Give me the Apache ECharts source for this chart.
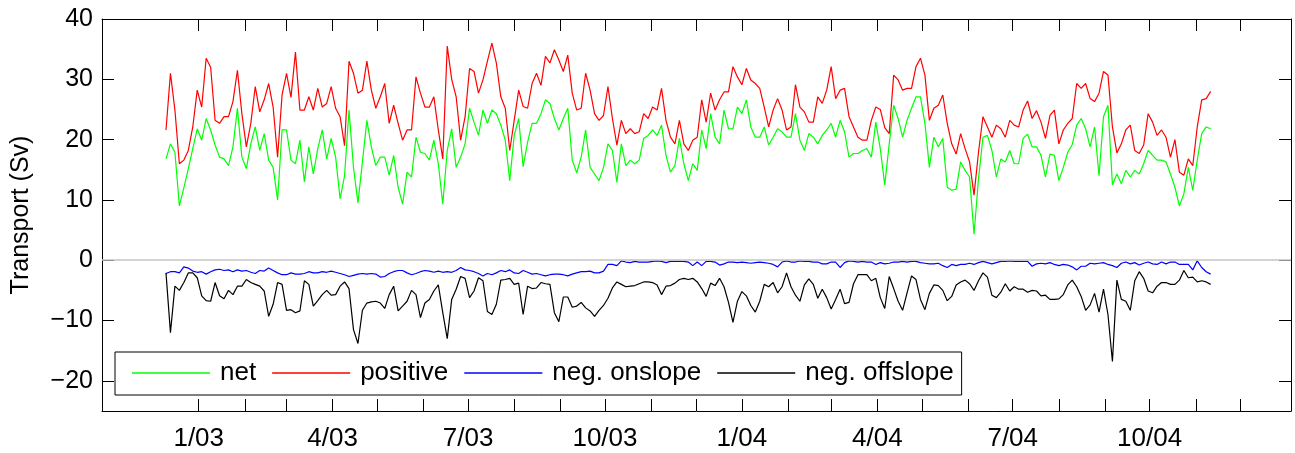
<!DOCTYPE html>
<html>
<head>
<meta charset="utf-8">
<title>Transport</title>
<script src="https://cdn.jsdelivr.net/npm/echarts@6.0.0/dist/echarts.min.js"></script>
<style>
  html, body { margin: 0; padding: 0; background: #fff; }
  #chart { width: 1295px; height: 453px; }
</style>
</head>
<body>
<div id="chart"></div>
<script>
// x is in days counted from 1 Jan 2003, one sample every 3 days
var startDay = -22
var stepDays = 3

var net = [
  16.8, 19.3, 17.9, 9, 12, 15.2, 18.5, 21.8, 19.9, 23.5,
  21.6, 19.1, 17.1, 16.8, 15.7, 18.8, 25.2, 17.1, 15.2, 19.3,
  22.1, 18.2, 21, 16.6, 15.4, 10, 21.6, 21.6, 16.6, 16,
  19.9, 13, 18.8, 14.3, 18.5, 21.6, 16.8, 20.2, 17.1, 10.2,
  14, 24.9, 15.4, 9.5, 16.3, 23.2, 18.8, 15.7, 17.1, 17.1,
  14.1, 17.4, 12.1, 9.3, 14.6, 13.8, 20.4, 17.9, 17.7, 16.6,
  19.9, 16, 9.3, 18.2, 21.8, 15.4, 17.1, 19.3, 25.2, 22.9,
  20.7, 24.9, 22.7, 24.9, 24.3, 22.4, 19.9, 13.2, 20.7, 23.5,
  15.5, 19.6, 22.7, 22.7, 24.3, 26.6, 26, 23.5, 21.6, 23.5,
  25.2, 16.6, 14.5, 17.1, 21.6, 15.4, 14.3, 13.2, 15.4, 19.3,
  18.2, 12.9, 19.3, 15.7, 16.6, 16, 16.6, 20.2, 20.7, 21.6,
  20.7, 22.4, 17.4, 14.6, 15.7, 20.2, 16, 13.2, 16, 14.9,
  21.6, 18.5, 24.3, 20.4, 19.3, 24.9, 21.8, 21.8, 25.4, 24.3,
  26.6, 22.1, 20.4, 20.4, 22.1, 19.1, 20.4, 21.8, 21.3, 20.4,
  20.4, 24.3, 19.9, 18.2, 21, 20.4, 19.3, 20.7, 21.6, 22.7,
  20.4, 23.2, 21.3, 17.1, 17.7, 17.7, 18.2, 18.5, 17.1, 22.9,
  18.5, 12.5, 19.3, 25.7, 23.5, 20.4, 23.2, 25.2, 27.1, 27.1,
  22.7, 15.4, 20.4, 18.8, 20.2, 12.1, 11.6, 11.8, 16.3, 14.9,
  13.8, 4.3, 13.5, 20.4, 20.7, 18.2, 13.8, 16.8, 16.3, 18.2,
  16, 16, 20.2, 20.9, 18.8, 18.8, 17.4, 13.8, 17.6, 17.4,
  13.2, 15.4, 17.9, 19.2, 22.4, 23.5, 21.8, 18.8, 22.1, 14,
  23.8, 25.7, 12.5, 14.3, 12.7, 14.9, 13.8, 14.9, 14.3, 16,
  18.2, 17.4, 16.6, 16.6, 16.3, 14.3, 12.1, 9, 11, 15.4,
  11.6, 16.6, 21, 22.1, 21.8
]

var positive = [
  21.6, 31, 24.9, 16, 16.6, 18.2, 22.1, 28.2, 25.4, 33.5,
  32, 23.2, 22.7, 23.8, 23.8, 26.3, 31.5, 24.3, 18.8, 22.7,
  28.8, 24.6, 26.6, 29.3, 25.4, 17.1, 27.4, 31, 27, 34.5,
  24.9, 24.9, 27.1, 24.9, 28.5, 25.4, 26, 28.8, 25.2, 23.8,
  19, 33, 31, 27.7, 28.2, 33, 28.2, 25.2, 27.1, 29.3,
  22.7, 25.7, 22.7, 19.9, 21.6, 21.6, 30.4, 27.7, 25.4, 25.4,
  27.1, 21.6, 16.8, 35.5, 30, 27.1, 19.9, 23.8, 31.8, 31.3,
  27.7, 29.9, 33, 36, 32.7, 27.1, 25.2, 18.2, 23.2, 28.2,
  25.5, 25.2, 29.3, 31, 29, 33.8, 32.7, 34.9, 33.2, 31.3,
  34, 27.7, 24.9, 25.2, 31, 28.2, 24.3, 23.2, 24, 28.8,
  23.5, 19.1, 23.2, 21, 21.8, 21, 21.3, 24.3, 23.5, 25.4,
  24.9, 28.5, 23.2, 20.4, 19.3, 23.2, 19.3, 18.2, 19.9, 20.4,
  26.6, 22.9, 27.7, 24.9, 26.6, 27.9, 27.9, 32.1, 30.4, 29.1,
  31.8, 29.9, 29.3, 28.5, 25.4, 22.1, 24.9, 26.8, 24.9, 21.6,
  22.1, 29.1, 25.4, 24.6, 22.9, 22.9, 27.1, 26, 28.2, 32.1,
  26.8, 28.2, 28.5, 23.8, 22.1, 20.4, 19.9, 19.9, 23.2, 25.4,
  25, 22, 21, 30.7, 29.9, 28.2, 28.5, 28.5, 32.1, 33.5,
  30.7, 23.2, 25.2, 25.7, 27.4, 22.7, 19.3, 17.6, 21, 18.5,
  16.3, 10.8, 17.9, 23.8, 22.1, 20.4, 22.4, 21.8, 20.4, 23.2,
  22.4, 22.1, 24.9, 26.4, 23.5, 24.8, 22.9, 20.2, 24, 24.9,
  19.3, 21.6, 22.7, 23.5, 29.3, 28.5, 29.3, 26.8, 26.3, 27.7,
  31.3, 30.7, 22.1, 17.8, 19.3, 21.6, 22.4, 18.2, 17.7, 19.1,
  24.3, 22.9, 20.7, 21.6, 20.4, 17.1, 20, 14.6, 14.1, 16.8,
  15.7, 22.1, 26.6, 26.8, 28
]

var negOnslope = [
  -2.2, -1.9, -1.9, -2.1, -1.1, -1.3, -1.8, -2, -1.9, -2.3,
  -1.9, -1.6, -1.5, -1.7, -1.6, -1.9, -1.6, -1.8, -1.7, -2,
  -2.2, -1.7, -1.8, -1.3, -1.7, -2.1, -2.4, -2.4, -2.1, -2.3,
  -2.3, -2.2, -1.9, -2.1, -2.1, -1.9, -2, -1.8, -2, -2.2,
  -2.4, -2.7, -2.5, -2.3, -2.2, -2.3, -2.2, -2.3, -2.8, -2.7,
  -2.2, -1.9, -1.7, -1.7, -2.1, -2.4, -2.2, -1.9, -1.7, -1.8,
  -2, -1.8, -2, -1.9, -2, -1.7, -1.2, -1.6, -1.7, -1.9,
  -2.2, -2.6, -2.2, -2.4, -2.1, -1.7, -1.9, -1.6, -2.1, -2.2,
  -1.7, -2, -2.3, -2.2, -2.4, -2.6, -2.4, -2.3, -2.3, -2.4,
  -2.6, -2.3, -2.1, -1.9, -1.9, -1.8, -2.1, -2.1, -1.8, -0.7,
  -0.7, -0.9, -0.1, -0.3, -0.4, -0.2, -0.3, -0.3, -0.3, -0.2,
  -0.1, -0.2, -0.4, -0.2, -0.2, -0.2, -0.2, -0.3, -0.9, -0.3,
  -0.9, -0.2, -0.2, -0.3, -0.8, -0.6, -0.3, -0.3, -0.4, -0.3,
  -0.4, -0.5, -0.4, -0.3, -0.4, -0.5, -0.7, -1.1, -0.3, -0.1,
  -0.3, -0.3, -0.1, -0.2, -0.2, -0.3, -0.3, -0.6, -0.6, -0.3,
  -0.3, -1.2, -0.4, -0.1, -0.2, -0.3, -0.2, -0.3, -0.3, -0.7,
  -0.4, -0.6, -0.5, -0.3, -0.3, -0.2, -0.3, -0.2, -0.2, -0.4,
  -0.5, -0.6, -0.6, -0.5, -0.9, -1.2, -0.7, -0.9, -0.7, -0.7,
  -0.5, -0.7, -0.4, -0.2, -0.4, -0.6, -0.4, -0.2, -0.2, -0.1,
  -0.2, -0.2, -0.2, -0.2, -1, -0.6, -0.5, -0.6, -0.4, -0.7,
  -0.9, -0.7, -0.8, -1.1, -1.6, -1, -1, -0.5, -0.6, -0.5,
  -0.4, -0.7, -0.9, -1.2, -0.5, -0.3, -0.6, -0.4, -0.8, -0.5,
  -0.3, -0.6, -0.7, -0.3, -0.6, -0.3, -0.3, -0.7, -0.7, -0.7,
  -1.6, -0.1, -1.2, -1.9, -2.3
]

var negOffslope = [
  -2.1, -12, -4.3, -5, -3.7, -2.1, -2.1, -2.9, -5.9, -6.7,
  -6.8, -3.7, -5.9, -6.4, -5, -5.7, -4.3, -4.3, -3.2, -3.7,
  -4, -4.3, -5.1, -9.3, -7.3, -3.7, -4, -8.3, -8.2, -8.7,
  -8.4, -3.4, -4, -7.6, -6.7, -5.7, -5, -5.8, -5.7, -4.3,
  -3.6, -4.7, -11.5, -13.8, -8.3, -7.1, -6.9, -6.8, -7.1, -8,
  -5.7, -4.3, -8.4, -7.6, -6.8, -5, -5.7, -9.5, -7.1, -6.5,
  -5.1, -4.1, -8.7, -13, -6.5, -4.8, -2.7, -3, -6.2, -5.1,
  -2.9, -3.4, -8.5, -9, -7.3, -3.3, -3.2, -3, -4, -3.8,
  -9, -4.3, -4.7, -4.6, -3.7, -3.9, -4, -8.7, -10.2, -6.1,
  -6.1, -7.8, -7.6, -7, -7.9, -8.4, -9.3, -8.3, -7.5, -6.3,
  -4.6, -3.6, -4, -4.4, -4.3, -4.2, -3.9, -3.6, -3.6, -3.7,
  -4.1, -5.7, -4.3, -4.2, -3.8, -3.2, -3, -3.2, -3, -3.6,
  -4.7, -6, -3.8, -4.2, -3, -4.4, -7, -10.3, -6.8, -5.2,
  -5.9, -7.5, -8.6, -6.8, -4, -4.4, -3.7, -5.4, -4.4, -2.1,
  -4.4, -5.8, -6.8, -4.1, -3.1, -4, -6.3, -4.8, -6.2, -8.1,
  -6.5, -4.8, -7.2, -7, -3.9, -2.4, -2.4, -2.4, -3.4, -3,
  -6.2, -8, -2.7, -4.7, -6.8, -8.3, -5.4, -2.6, -3.2, -6.5,
  -8.2, -5.5, -4.1, -4.2, -5, -6.7, -6, -4.1, -3.6, -3.3,
  -3.9, -5, -3.4, -2.1, -2.8, -5.8, -6.2, -5.3, -3.9, -5.1,
  -4.4, -4.8, -4.8, -5.3, -5, -5.1, -5.9, -5.8, -6.5, -6.5,
  -6.4, -5.7, -4.1, -3.3, -4.4, -6, -8.3, -7.4, -5.5, -8.6,
  -4.8, -9, -16.8, -3.3, -6.5, -6.8, -8.3, -3.4, -1.9, -3,
  -5.1, -5.4, -4.3, -3.7, -3.7, -4, -4, -3.3, -1.7, -2.9,
  -2.8, -3.6, -3.4, -3.6, -4
]

// first day of each month, Jan 2003 .. Dec 2004
var monthTicks = [0, 31, 59, 90, 120, 151, 181, 212, 243, 273, 304, 334,
  365, 396, 425, 456, 486, 517, 547, 578, 609, 639, 670, 700]
var labelDays = [0, 90, 181, 273, 365, 456, 547, 639]
var labelText = ['1/03', '4/03', '7/03', '10/03', '1/04', '4/04', '7/04', '10/04']
var yTicks = [-20, -10, 0, 10, 20, 30, 40]

var font = '"Liberation Sans", Helvetica, Arial, sans-serif'

function toPoints (values) {
  return values.map(function (v, i) {
    return [startDay + i * stepDays, v]
  })
}

function lineSeries (name, values, color) {
  return {
    name: name,
    type: 'line',
    data: toPoints(values),
    showSymbol: false,
    symbol: 'none',
    color: color,
    lineStyle: { color: color, width: 1.2 },
    animation: false
  }
}

var chart = echarts.init(document.getElementById('chart'))

var xBase = {
  type: 'value',
  min: -65,
  max: 734,
  splitLine: { show: false },
  axisLine: { show: true, onZero: false, lineStyle: { color: '#000', width: 1 } },
  axisTick: {
    show: true,
    inside: true,
    length: 12,
    customValues: monthTicks,
    lineStyle: { color: '#000' }
  }
}

var yBase = {
  type: 'value',
  min: -25,
  max: 40,
  splitLine: { show: false },
  axisLine: { show: true, onZero: false, lineStyle: { color: '#000', width: 1 } },
  axisTick: {
    show: true,
    inside: true,
    length: 12,
    customValues: yTicks,
    lineStyle: { color: '#000' }
  }
}

var netSeries = lineSeries('net', net, '#00ff00')
netSeries.markLine = {
  silent: true,
  symbol: 'none',
  label: { show: false },
  lineStyle: { color: '#c4c4c4', width: 1.5, type: 'solid' },
  data: [{ yAxis: 0 }],
  animation: false
}

// legend keys are plain line segments, no markers
var legendNames = ['net', 'positive', 'neg. onslope', 'neg. offslope']

var option = {
  backgroundColor: '#fff',
  textStyle: { fontFamily: font },
  grid: { left: 102, right: 4, top: 19, bottom: 42 },
  legend: {
    data: legendNames.map(function (n) { return { name: n, icon: 'rect' } }),
    left: 115,
    top: 352,
    orient: 'horizontal',
    itemWidth: 78,
    itemHeight: 1.3,
    itemGap: 16,
    padding: [7, 8, 8, 17],
    borderColor: '#000',
    borderWidth: 1,
    backgroundColor: '#fff',
    textStyle: {
      fontFamily: font,
      fontSize: 26,
      lineHeight: 28,
      color: '#000',
      padding: [0, 0, 0, 5]
    }
  },
  xAxis: [
    Object.assign({}, xBase, {
      position: 'bottom',
      axisLabel: {
        show: true,
        customValues: labelDays,
        formatter: function (v) {
          return labelText[labelDays.indexOf(v)] || ''
        },
        margin: 15,
        fontSize: 26,
        fontFamily: font,
        color: '#000'
      }
    }),
    Object.assign({}, xBase, {
      position: 'top',
      axisLabel: { show: false }
    })
  ],
  yAxis: [
    Object.assign({}, yBase, {
      position: 'left',
      name: 'Transport (Sv)',
      nameLocation: 'middle',
      nameGap: 68,
      nameTextStyle: { fontFamily: font, fontSize: 25, color: '#000' },
      axisLabel: {
        show: true,
        customValues: yTicks,
        formatter: function (v) {
          return v < 0 ? '\u2212' + Math.abs(v) : String(v)
        },
        margin: 9,
        fontSize: 25,
        fontFamily: font,
        color: '#000'
      }
    }),
    Object.assign({}, yBase, {
      position: 'right',
      axisLabel: { show: false }
    })
  ],
  series: [
    netSeries,
    lineSeries('positive', positive, '#ff0000'),
    lineSeries('neg. onslope', negOnslope, '#0000ff'),
    lineSeries('neg. offslope', negOffslope, '#000000')
  ]
}

chart.setOption(option)
</script>
</body>
</html>
